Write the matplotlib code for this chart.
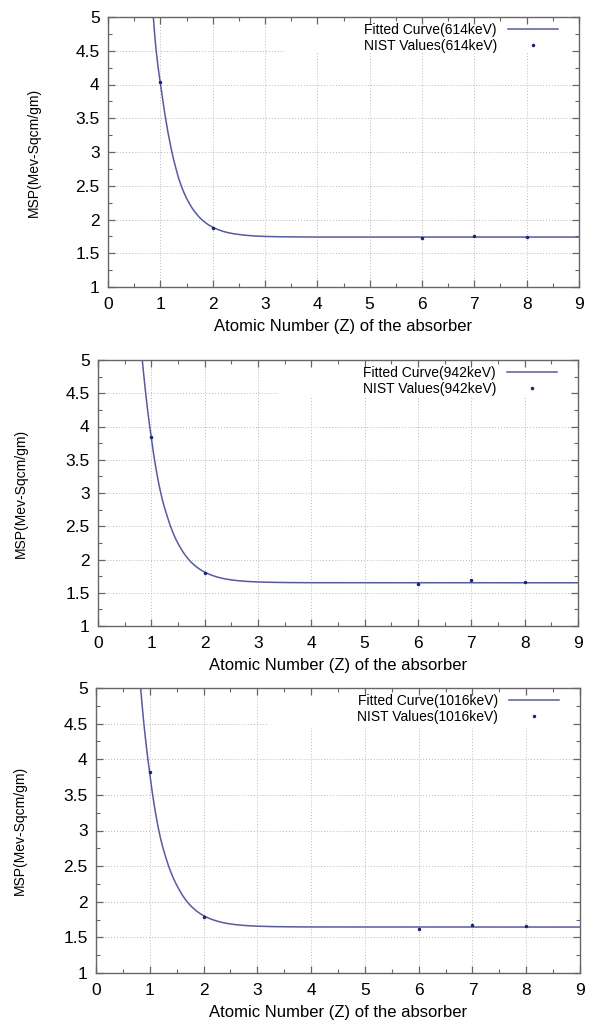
import matplotlib
matplotlib.use("Agg")
import matplotlib.pyplot as plt
from matplotlib.lines import Line2D
from matplotlib.patches import Rectangle
from matplotlib.ticker import MultipleLocator, FormatStrFormatter

plt.rcParams["font.family"] = ["Liberation Sans", "DejaVu Sans"]

# ── Data ─────────────────────────────────────────────────────────────────────
ENERGIES = ["614keV", "942keV", "1016keV"]

NIST_Z = [1, 2, 6, 7, 8]
NIST_614 = [4.04, 1.88, 1.72, 1.76, 1.74]
NIST_942 = [3.84, 1.79, 1.63, 1.69, 1.66]
NIST_1016 = [3.82, 1.79, 1.62, 1.68, 1.66]

FIT_Z_614 = [0.866, 0.89, 0.92, 0.96, 1.0, 1.045, 1.085, 1.146, 1.21, 1.25, 1.3,
             1.35, 1.4, 1.45, 1.5, 1.55, 1.6, 1.65, 1.7, 1.75, 1.8, 1.85, 1.9, 1.95,
             2.0, 2.1, 2.2, 2.3, 2.4, 2.6, 2.8, 3.0, 3.3, 3.6, 4.0, 9.0]
FIT_614 = [5.00, 4.76, 4.50, 4.24, 4.02, 3.78, 3.57, 3.29, 3.04, 2.90, 2.75,
           2.61, 2.50, 2.40, 2.315, 2.243, 2.178, 2.122, 2.073, 2.030, 1.993, 1.960, 1.932, 1.907,
           1.886, 1.851, 1.824, 1.804, 1.789, 1.768, 1.756, 1.749, 1.744, 1.742, 1.740, 1.740]

FIT_Z_942 = [0.83, 0.86, 0.89, 0.93, 0.965, 1.0, 1.04, 1.08, 1.12, 1.16, 1.2, 1.24,
             1.29, 1.35, 1.4, 1.45, 1.5, 1.55, 1.6, 1.65, 1.7, 1.75, 1.8, 1.85, 1.9, 1.95,
             2.0, 2.1, 2.2, 2.3, 2.4, 2.6, 2.8, 3.0, 3.3, 3.6, 4.0, 9.0]
FIT_942 = [5.00, 4.76, 4.53, 4.25, 4.03, 3.83, 3.60, 3.40, 3.22, 3.06, 2.92, 2.80,
           2.67, 2.52, 2.415, 2.32, 2.242, 2.171, 2.106, 2.05, 2.0, 1.957, 1.92, 1.887, 1.858, 1.832,
           1.81, 1.773, 1.745, 1.723, 1.705, 1.683, 1.67, 1.662, 1.656, 1.653, 1.651, 1.650]

FIT_Z_1016 = [0.83, 0.86, 0.89, 0.93, 0.965, 1.0, 1.04, 1.08, 1.12, 1.16, 1.2, 1.24,
              1.29, 1.35, 1.4, 1.45, 1.5, 1.55, 1.6, 1.65, 1.7, 1.75, 1.8, 1.85, 1.9, 1.95,
              2.0, 2.1, 2.2, 2.3, 2.4, 2.6, 2.8, 3.0, 3.3, 3.6, 4.0, 9.0]
FIT_1016 = [5.00, 4.74, 4.50, 4.22, 4.00, 3.80, 3.57, 3.37, 3.19, 3.03, 2.89, 2.77,
            2.64, 2.50, 2.40, 2.31, 2.235, 2.165, 2.10, 2.045, 1.995, 1.952, 1.915, 1.882, 1.853, 1.827,
            1.805, 1.768, 1.740, 1.718, 1.700, 1.678, 1.665, 1.657, 1.651, 1.648, 1.646, 1.645]

X_GRID = [1, 2, 3, 4, 5, 6, 7, 8]
Y_GRID = [1.5, 2, 2.5, 3, 3.5, 4, 4.5]

# ── Layout / style ───────────────────────────────────────────────────────────
W, H = 589, 1024
# (left, right, top, bottom) in pixels for each panel
PANEL_PX = [(108, 579, 17, 287), (98, 578, 360, 626), (96, 580, 688, 973)]
YLABEL_X_PX = [41, 28, 27]
# legend blanking box (x start / y bottom, data units)
KEY_BOX = [(3.4, 4.46), (3.4, 4.46), (3.2, 4.44)]

CURVE_COLOR = "#575b9c"
POINT_COLOR = "#1c2470"
GRID_COLOR = "#b8b8b8"
FRAME_COLOR = "#666666"

panels = [
    (ENERGIES[0], FIT_Z_614, FIT_614, NIST_614),
    (ENERGIES[1], FIT_Z_942, FIT_942, NIST_942),
    (ENERGIES[2], FIT_Z_1016, FIT_1016, NIST_1016),
]

fig = plt.figure(figsize=(W / 100, H / 100), dpi=100)

for (energy, fz, fy, nist), (l, r, t, b), ylx, (kx, ky) in zip(panels, PANEL_PX, YLABEL_X_PX, KEY_BOX):
    pw, ph = r - l, b - t
    ax = fig.add_axes([l / W, 1 - b / H, pw / W, ph / H])
    ax.set_xlim(0, 9)
    ax.set_ylim(1, 5)

    # dotted grid, drawn by hand so the key box can blank it out
    ax.vlines(X_GRID, 1, 5, colors=GRID_COLOR, linestyles=(0, (1, 2)), linewidth=0.7, zorder=1)
    ax.hlines(Y_GRID, 0, 9, colors=GRID_COLOR, linestyles=(0, (1, 2)), linewidth=0.7, zorder=1)
    ax.add_patch(Rectangle((kx, ky), 9 - kx, 5 - ky, facecolor="white", edgecolor="none", zorder=1.5))

    ax.plot(fz, fy, color=CURVE_COLOR, linewidth=1.1, zorder=2)
    ax.plot(NIST_Z, nist, linestyle="none", marker="o", markersize=1.5,
            color=POINT_COLOR, zorder=3)

    ax.xaxis.set_major_locator(MultipleLocator(1))
    ax.xaxis.set_minor_locator(MultipleLocator(0.5))
    ax.yaxis.set_major_locator(MultipleLocator(0.5))
    ax.yaxis.set_minor_locator(MultipleLocator(0.25))
    ax.yaxis.set_major_formatter(FormatStrFormatter("%g"))
    ax.tick_params(which="both", direction="in", top=True, right=True, color=FRAME_COLOR)
    ax.tick_params(which="major", length=5, width=0.9)
    ax.tick_params(which="minor", length=3, width=0.8)
    ax.tick_params(axis="x", which="major", labelsize=12.5, pad=7)
    ax.tick_params(axis="y", which="major", labelsize=12.5, pad=6)
    for s in ax.spines.values():
        s.set_color(FRAME_COLOR)
        s.set_linewidth(1.0)

    ax.set_xlabel("Atomic Number (Z) of the absorber", fontsize=12)
    ax.xaxis.set_label_coords(0.5, -32 / ph)
    ax.set_ylabel("MSP(Mev-Sqcm/gm)", fontsize=10)
    ax.yaxis.set_label_coords(-(l - ylx) / pw, 0.5)

    handles = [Line2D([], [], color=CURVE_COLOR, linewidth=1.1),
               Line2D([], [], linestyle="none", marker="o", markersize=1.5, color=POINT_COLOR)]
    ax.legend(handles, [f"Fitted Curve({energy})", f"NIST Values({energy})"],
              loc="upper right", bbox_to_anchor=(1 - 21 / pw, 1 - 6 / ph), markerfirst=False,
              frameon=False, fontsize=10, handlelength=3.6, handletextpad=0.8,
              labelspacing=0.15, borderaxespad=0, borderpad=0)

fig.savefig("out.png", dpi=100)
